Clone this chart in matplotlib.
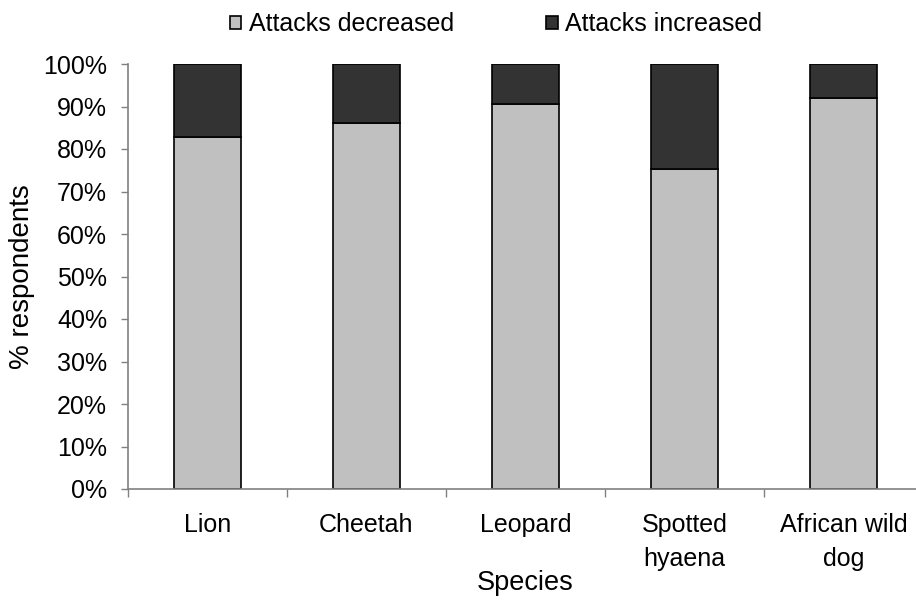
import numpy as np
import matplotlib.pyplot as plt
from matplotlib.ticker import FixedLocator, PercentFormatter

plt.rcParams['font.family'] = ['Liberation Sans', 'DejaVu Sans']

# share of respondents per species (%)
species = ['Lion', 'Cheetah', 'Leopard', 'Spotted\nhyaena', 'African wild\ndog']
decreased = np.array([82.9, 86.2, 90.6, 75.2, 91.9])
increased = 100 - decreased

FS = 18

fig = plt.figure(figsize=(9.16, 6.03), dpi=100)
ax = fig.add_axes([128 / 916, 1 - 489 / 603, 795 / 916, 425 / 603])

x = np.arange(len(species))
ax.bar(x, decreased, width=0.42, color='#c0c0c0', edgecolor='black',
       linewidth=1.2, label='Attacks decreased')
ax.bar(x, increased, width=0.42, bottom=decreased, color='#333333',
       edgecolor='black', linewidth=1.2, label='Attacks increased')

ax.set_xlim(-0.5, len(species) - 0.5)
ax.set_ylim(0, 100)
ax.set_yticks(np.arange(0, 101, 10))
ax.yaxis.set_major_formatter(PercentFormatter(decimals=0))

# category labels in the middle, ticks on the boundaries
ax.set_xticks(x)
ax.set_xticklabels(species, linespacing=1.55)
ax.xaxis.set_minor_locator(FixedLocator(np.arange(-0.5, len(species), 1.0)))
ax.tick_params(axis='x', which='major', length=0, pad=17, labelsize=FS)
ax.tick_params(axis='x', which='minor', length=6, color='#808080', width=1)
ax.tick_params(axis='y', length=5, color='#808080', width=1, labelsize=FS,
               pad=10)

for s in ['top', 'right']:
    ax.spines[s].set_visible(False)
for s in ['left', 'bottom']:
    ax.spines[s].set_color('#808080')
    ax.spines[s].set_linewidth(1.2)

ax.set_ylabel('% respondents', fontsize=20)
ax.yaxis.set_label_coords(-0.117, 0.5)
ax.set_xlabel('Species', fontsize=19.5)
ax.xaxis.set_label_coords(0.5, -0.19)

ax.legend(loc='center', bbox_to_anchor=(0.463, 1.093), ncol=2,
          frameon=False, fontsize=FS, handlelength=0.45, handleheight=0.45,
          handletextpad=0.3, columnspacing=3.7, borderpad=0)

fig.savefig('out.png', dpi=100)
